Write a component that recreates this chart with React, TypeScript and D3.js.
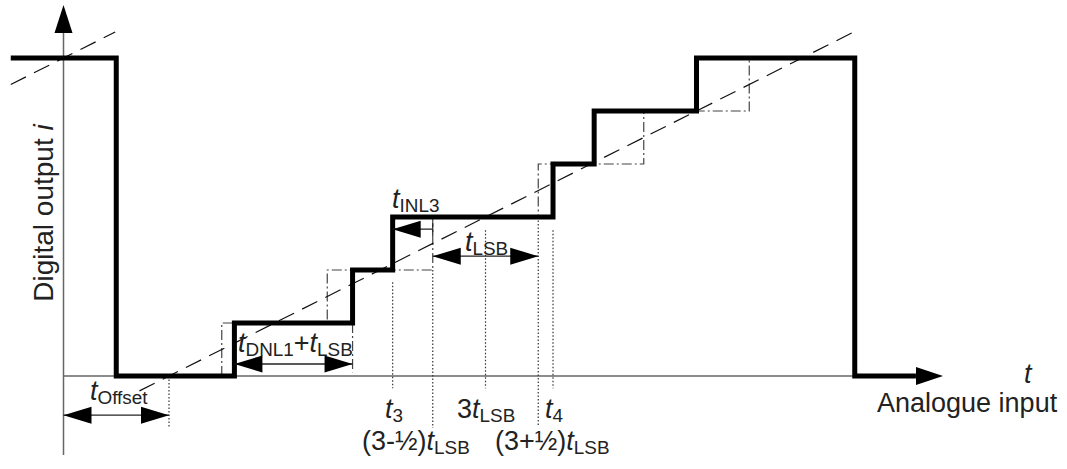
import React from "react";
import * as d3 from "d3";

// ---- data (units: t in LSB widths, level = output code) ----
const levels = [0, 1, 2, 3, 4, 5, 6];
const actualTransitions = [0.62, 1.74, 2.12, 3.64, 4.03, 5.0]; // real code transitions
const idealTransitions = [0.5, 1.5, 2.5, 3.5, 4.5, 5.5]; // (k-1/2) tLSB
const wrapStartT = -1.5; // top-left plateau start
const wrapDropT = -0.5; // falls from top code to 0
const wrapEndT = 6.5; // falls back to 0
const axisEndT = 7.08;
const idealLineMain = [-0.28, 6.48];
const idealLineWrap = [-1.5, -0.51];
const wrapPeriod = 7;

const FONT = "'Liberation Sans', Arial, Helvetica, sans-serif";
const W = 1067;
const H = 469;

const x = d3.scaleLinear().domain([-1, 7]).range([63.5, 907.5]);
const y = d3.scaleLinear().domain([0, 6]).range([376, 58]);

type Part = { t: string; it?: boolean; sub?: boolean };

function Label({ px, py, parts, size = 27 }: { px: number; py: number; parts: Part[]; size?: number }) {
  let subOn = false;
  return (
    <text x={px} y={py} fontFamily={FONT} fontSize={size} fill="#222">
      {parts.map((p, i) => {
        let dy = 0;
        if (p.sub && !subOn) dy = 4;
        if (!p.sub && subOn) dy = -4;
        subOn = !!p.sub;
        return (
          <tspan key={i} dy={dy} fontStyle={p.it ? "italic" : "normal"} fontSize={p.sub ? size * 0.7 : size}>
            {p.t}
          </tspan>
        );
      })}
    </text>
  );
}

function headPath(tipX: number, tipY: number, dir: number, len = 28, half = 8.5) {
  // dir: +1 pointing right, -1 pointing left
  const bx = tipX - dir * len;
  return `M${tipX},${tipY}L${bx},${tipY - half}L${bx},${tipY + half}Z`;
}

function DimArrow({ t0, t1, lvl, left = true, right = true }: { t0: number; t1: number; lvl: number; left?: boolean; right?: boolean }) {
  const x0 = x(t0);
  const x1 = x(t1);
  const yy = y(lvl);
  return (
    <g>
      <line x1={x0} x2={x1} y1={yy} y2={yy} stroke="#222" strokeWidth={1.3} />
      {left && <path d={headPath(x0, yy, -1)} fill="#000" />}
      {right && <path d={headPath(x1, yy, 1)} fill="#000" />}
    </g>
  );
}

export default function App() {
  const line = d3.line<[number, number]>().x((d) => x(d[0])).y((d) => y(d[1]));

  // actual transfer staircase
  const thick: [number, number][] = [
    [wrapStartT, levels[6]],
    [wrapDropT, levels[6]],
    [wrapDropT, levels[0]],
  ];
  actualTransitions.forEach((tr, i) => {
    thick.push([tr, levels[i]]);
    thick.push([tr, levels[i + 1]]);
  });
  thick.push([wrapEndT, levels[6]]);
  thick.push([wrapEndT, levels[0]]);
  thick.push([axisEndT, levels[0]]);

  // ideal staircase
  const ideal: [number, number][] = [];
  idealTransitions.forEach((tr, i) => {
    ideal.push([tr, levels[i]]);
    ideal.push([tr, levels[i + 1]]);
  });

  const mainLine: [number, number][] = idealLineMain.map((t) => [t, t] as [number, number]);
  const wrapLine: [number, number][] = idealLineWrap.map((t) => [t, t + wrapPeriod] as [number, number]);

  const dotted: { t: number; from: number; to: number }[] = [
    { t: 0, from: 0, to: -0.97 },
    { t: actualTransitions[2], from: 1.77, to: -0.23 },
    { t: 2.5, from: 2, to: -0.98 },
    { t: 3.0, from: 2.75, to: -0.23 },
    { t: 3.5, from: 3, to: -0.95 },
    { t: actualTransitions[3], from: 2.75, to: -0.23 },
  ];

  const x0 = x(-1);
  const tipX = 943;

  return (
    <svg width={W} height={H} style={{ position: "absolute", left: 0, top: 0, background: "#fff" }}>
      <rect width={W} height={H} fill="#fff" />
      {/* y axis */}
      <line x1={x0} x2={x0} y1={30} y2={455} stroke="#666" strokeWidth={1.5} />
      <path d={`M${x0},5L${x0 - 9},33L${x0 + 9},33Z`} fill="#000" />
      {/* baseline */}
      <line x1={x0} x2={x(wrapEndT)} y1={y(0)} y2={y(0)} stroke="#666" strokeWidth={1.5} />

      {/* ideal staircase (dash-dot) */}
      <path d={line(ideal) || ""} fill="none" stroke="#444" strokeWidth={1.2} strokeDasharray="10,3,2,3" />
      <line x1={x(actualTransitions[1])} x2={x(actualTransitions[1])} y1={y(1)} y2={y(0.07)} stroke="#444" strokeWidth={1.2} strokeDasharray="10,3,2,3" />

      {/* dotted extension lines */}
      {dotted.map((d, i) => (
        <line key={i} x1={x(d.t)} x2={x(d.t)} y1={y(d.from)} y2={y(d.to)} stroke="#333" strokeWidth={1.2} strokeDasharray="1.5,2" />
      ))}

      {/* ideal straight line (dashed) */}
      <path d={line(mainLine) || ""} fill="none" stroke="#111" strokeWidth={1.2} strokeDasharray="17,9" />
      <path d={line(wrapLine) || ""} fill="none" stroke="#111" strokeWidth={1.2} strokeDasharray="17,9" />

      {/* actual staircase */}
      <path d={line(thick) || ""} fill="none" stroke="#000" strokeWidth={5} strokeLinejoin="miter" />
      <path d={headPath(tipX, y(0), 1, 27, 9)} fill="#000" />

      {/* dimension arrows */}
      <DimArrow t0={-1} t1={0} lvl={-0.74} />
      <DimArrow t0={actualTransitions[0]} t1={actualTransitions[1]} lvl={0.226} />
      <DimArrow t0={2.5} t1={3.5} lvl={2.26} />
      <DimArrow t0={actualTransitions[2]} t1={2.5} lvl={2.77} right={false} />
      <line x1={x(2.5)} x2={x(2.5)} y1={y(2.77) - 6} y2={y(2.77) + 6} stroke="#222" strokeWidth={1.2} />

      {/* labels */}
      <text transform="translate(53,213) rotate(-90)" textAnchor="middle" fontFamily={FONT} fontSize={28} fill="#222">
        Digital output <tspan fontStyle="italic">i</tspan>
      </text>
      <text x={1024} y={383} fontFamily={FONT} fontSize={27} fontStyle="italic" fill="#222">t</text>
      <text x={877} y={412} fontFamily={FONT} fontSize={27} fill="#222">Analogue input</text>

      <Label px={90} py={400} parts={[{ t: "t", it: true }, { t: "Offset", sub: true }]} />
      <Label px={238} py={352} parts={[{ t: "t", it: true }, { t: "DNL1", sub: true }, { t: "+" }, { t: "t", it: true }, { t: "LSB", sub: true }]} />
      <Label px={392} py={208} parts={[{ t: "t", it: true }, { t: "INL3", sub: true }]} />
      <Label px={465} py={251} parts={[{ t: "t", it: true }, { t: "LSB", sub: true }]} />
      <Label px={385} py={418} parts={[{ t: "t", it: true }, { t: "3", sub: true }]} />
      <Label px={457} py={418} parts={[{ t: "3" }, { t: "t", it: true }, { t: "LSB", sub: true }]} />
      <Label px={545} py={418} parts={[{ t: "t", it: true }, { t: "4", sub: true }]} />
      <Label px={362} py={450} parts={[{ t: "(3-½)" }, { t: "t", it: true }, { t: "LSB", sub: true }]} />
      <Label px={495} py={450} parts={[{ t: "(3+½)" }, { t: "t", it: true }, { t: "LSB", sub: true }]} />
    </svg>
  );
}
